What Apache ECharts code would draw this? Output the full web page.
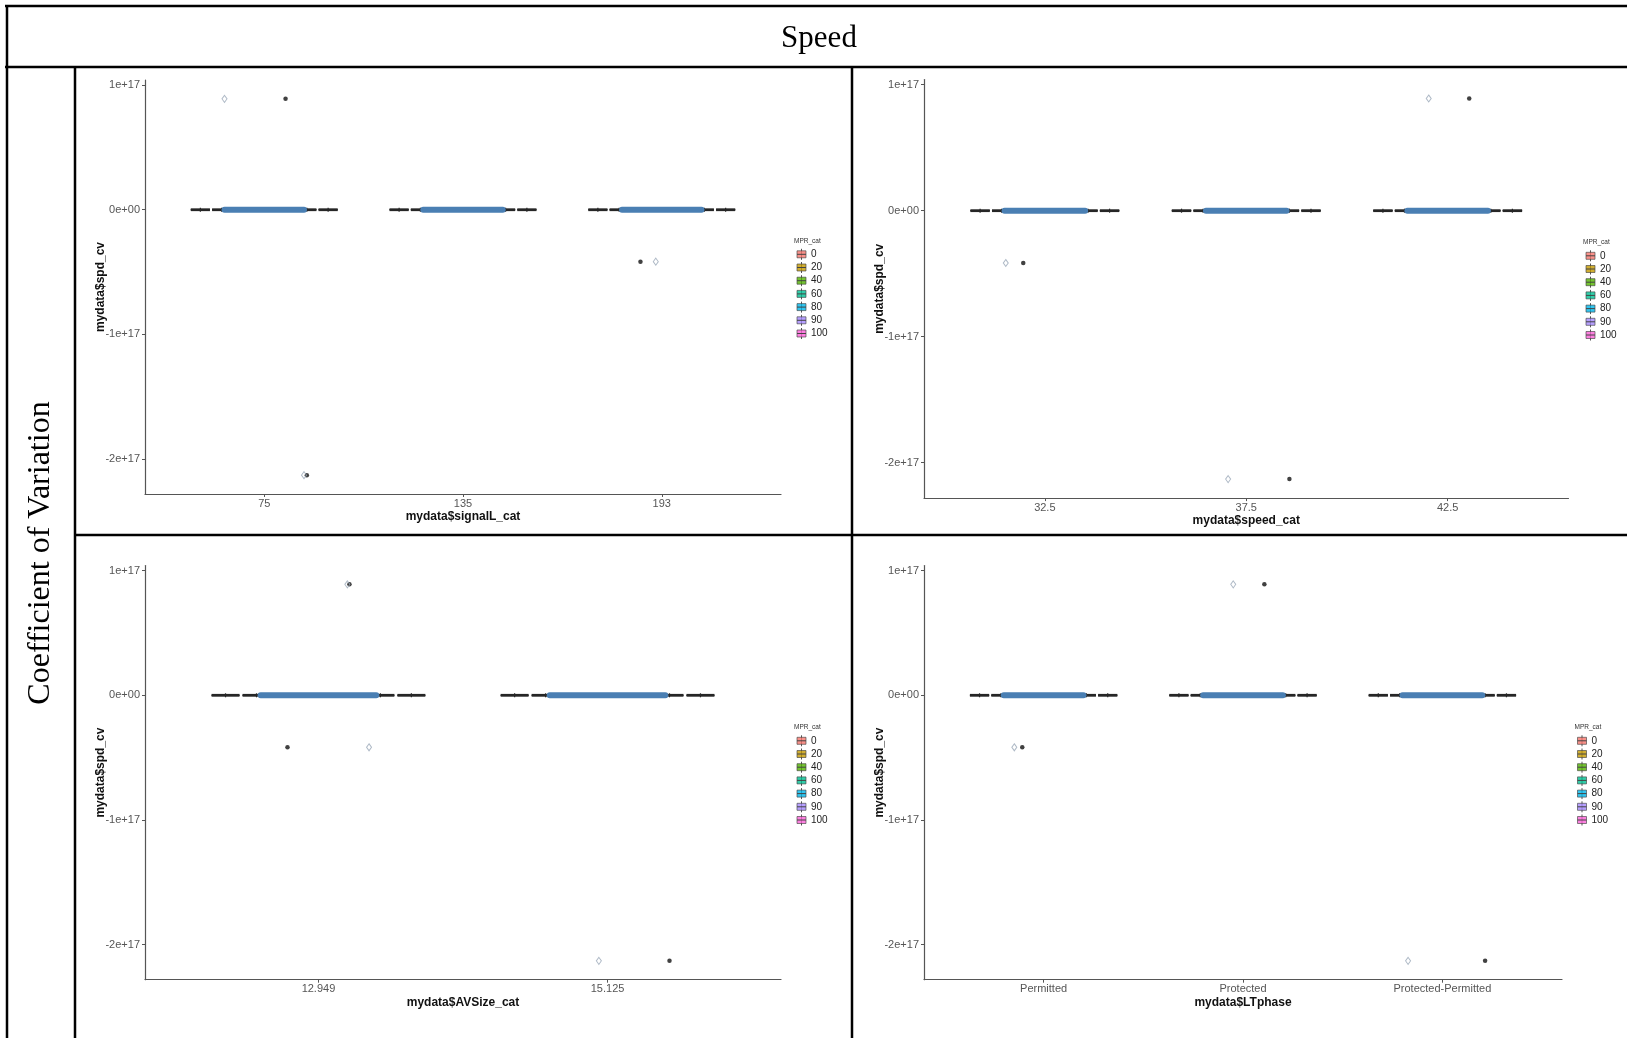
<!DOCTYPE html>
<html>
<head>
<meta charset="utf-8">
<script src="https://cdn.jsdelivr.net/npm/echarts@6/dist/echarts.min.js"></script>
<style>
  html, body { margin: 0; padding: 0; background: #fff; }
  #chart { width: 1627px; height: 1038px; }
</style>
</head>
<body>
<div id="chart"></div>
<script>
// ---- data -------------------------------------------------------------
// MPR_cat levels (dodged inside every category) and their fill colours
const mprLevels = ['0', '20', '40', '60', '80', '90', '100'];
const mprColors = ['#F8766D', '#C49A00', '#53B400', '#00C094', '#00B6EB', '#A58AFF', '#FB61D7'];

// y ticks shared by all four panels
const yTickValues = [-2e17, -1e17, 0, 1e17];
const yTickLabels = ['-2e+17', '-1e+17', '0e+00', '1e+17'];

// box statistics per category and MPR level:
// [lower whisker, Q1, median, Q3, upper whisker]
const signalCats = ['75', '135', '193'];
const signalBoxes = [
  [[-1.6e15, 0, 0, 0, 1.6e15], [-1.6e15, 0, 0, 0, 1.6e15], [-1.6e15, 0, 0, 0, 1.6e15], [-1.6e15, 0, 0, 0, 1.6e15], [-1.6e15, 0, 0, 0, 1.6e15], [-1.6e15, 0, 0, 0, 1.6e15], [-1.6e15, 0, 0, 0, 1.6e15]],
  [[-1.6e15, 0, 0, 0, 1.6e15], [-1.6e15, 0, 0, 0, 1.6e15], [-1.6e15, 0, 0, 0, 1.6e15], [-1.6e15, 0, 0, 0, 1.6e15], [-1.6e15, 0, 0, 0, 1.6e15], [-1.6e15, 0, 0, 0, 1.6e15], [-1.6e15, 0, 0, 0, 1.6e15]],
  [[-1.6e15, 0, 0, 0, 1.6e15], [-1.6e15, 0, 0, 0, 1.6e15], [-1.6e15, 0, 0, 0, 1.6e15], [-1.6e15, 0, 0, 0, 1.6e15], [-1.6e15, 0, 0, 0, 1.6e15], [-1.6e15, 0, 0, 0, 1.6e15], [-1.6e15, 0, 0, 0, 1.6e15]]
];
// boxplot outliers: [category, MPR level index, spd_cv]
const signalOutliers = [[0, 4, 8.9e16], [0, 5, -2.13e17], [2, 2, -4.17e16]];
// jittered observations away from zero: [category, jitter offset, spd_cv]
const signalJitter = [[0, -0.20, 8.9e16], [0, 0.20, -2.13e17], [2, -0.03, -4.17e16]];
// value around which the bulk of the jittered observations sits
const signalBulk = [0, 0, 0];

const speedCats = ['32.5', '37.5', '42.5'];
const speedBoxes = [
  [[-1.6e15, 0, 0, 0, 1.6e15], [-1.6e15, 0, 0, 0, 1.6e15], [-1.6e15, 0, 0, 0, 1.6e15], [-1.6e15, 0, 0, 0, 1.6e15], [-1.6e15, 0, 0, 0, 1.6e15], [-1.6e15, 0, 0, 0, 1.6e15], [-1.6e15, 0, 0, 0, 1.6e15]],
  [[-1.6e15, 0, 0, 0, 1.6e15], [-1.6e15, 0, 0, 0, 1.6e15], [-1.6e15, 0, 0, 0, 1.6e15], [-1.6e15, 0, 0, 0, 1.6e15], [-1.6e15, 0, 0, 0, 1.6e15], [-1.6e15, 0, 0, 0, 1.6e15], [-1.6e15, 0, 0, 0, 1.6e15]],
  [[-1.6e15, 0, 0, 0, 1.6e15], [-1.6e15, 0, 0, 0, 1.6e15], [-1.6e15, 0, 0, 0, 1.6e15], [-1.6e15, 0, 0, 0, 1.6e15], [-1.6e15, 0, 0, 0, 1.6e15], [-1.6e15, 0, 0, 0, 1.6e15], [-1.6e15, 0, 0, 0, 1.6e15]]
];
const speedOutliers = [[0, 2, -4.15e16], [1, 5, -2.13e17], [2, 4, 8.9e16]];
const speedJitter = [[0, -0.194, -4.15e16], [1, -0.09, -2.13e17], [2, -0.094, 8.9e16]];
const speedBulk = [0, 0, 0];

const avSizeCats = ['12.949', '15.125'];
const avSizeBoxes = [
  [[-1.6e15, 0, 0, 0, 1.6e15], [-1.6e15, 0, 0, 0, 1.6e15], [-1.6e15, 0, 0, 0, 1.6e15], [-1.6e15, 0, 0, 0, 1.6e15], [-1.6e15, 0, 0, 0, 1.6e15], [-1.6e15, 0, 0, 0, 1.6e15], [-1.6e15, 0, 0, 0, 1.6e15]],
  [[-1.6e15, 0, 0, 0, 1.6e15], [-1.6e15, 0, 0, 0, 1.6e15], [-1.6e15, 0, 0, 0, 1.6e15], [-1.6e15, 0, 0, 0, 1.6e15], [-1.6e15, 0, 0, 0, 1.6e15], [-1.6e15, 0, 0, 0, 1.6e15], [-1.6e15, 0, 0, 0, 1.6e15]]
];
const avSizeOutliers = [[0, 4, 8.9e16], [0, 2, -4.17e16], [1, 5, -2.13e17]];
const avSizeJitter = [[0, 0.10, 8.9e16], [0, 0.175, -4.17e16], [1, -0.03, -2.13e17]];
const avSizeBulk = [0, 0];

const ltPhaseCats = ['Permitted', 'Protected', 'Protected-Permitted'];
const ltPhaseBoxes = [
  [[-1.6e15, 0, 0, 0, 1.6e15], [-1.6e15, 0, 0, 0, 1.6e15], [-1.6e15, 0, 0, 0, 1.6e15], [-1.6e15, 0, 0, 0, 1.6e15], [-1.6e15, 0, 0, 0, 1.6e15], [-1.6e15, 0, 0, 0, 1.6e15], [-1.6e15, 0, 0, 0, 1.6e15]],
  [[-1.6e15, 0, 0, 0, 1.6e15], [-1.6e15, 0, 0, 0, 1.6e15], [-1.6e15, 0, 0, 0, 1.6e15], [-1.6e15, 0, 0, 0, 1.6e15], [-1.6e15, 0, 0, 0, 1.6e15], [-1.6e15, 0, 0, 0, 1.6e15], [-1.6e15, 0, 0, 0, 1.6e15]],
  [[-1.6e15, 0, 0, 0, 1.6e15], [-1.6e15, 0, 0, 0, 1.6e15], [-1.6e15, 0, 0, 0, 1.6e15], [-1.6e15, 0, 0, 0, 1.6e15], [-1.6e15, 0, 0, 0, 1.6e15], [-1.6e15, 0, 0, 0, 1.6e15], [-1.6e15, 0, 0, 0, 1.6e15]]
];
const ltPhaseOutliers = [[0, 2, -4.17e16], [1, 4, 8.9e16], [2, 5, -2.13e17]];
const ltPhaseJitter = [[0, -0.147, -4.17e16], [1, -0.049, 8.9e16], [2, -0.172, -2.13e17]];
const ltPhaseBulk = [0, 0, 0];

// ---- layout -----------------------------------------------------------
const NARROW = "'Liberation Sans Narrow', 'Arial Narrow', 'Liberation Sans', Arial, sans-serif";
const SANS = "'Liberation Sans', Arial, sans-serif";
const SERIF = "'Liberation Serif', 'Times New Roman', serif";

const DODGE_W = 0.75;              // total dodge width per category
const SLOT = DODGE_W / mprLevels.length;
const BOX_W = SLOT * 0.9;
const JITTER_W = 0.2;
const AXIS_COLOR = '#555';

const panels = [
  { cats: signalCats, boxes: signalBoxes, outliers: signalOutliers, jitter: signalJitter, bulk: signalBulk,
    xTitle: 'mydata$signalL_cat', grid: { left: 145, top: 80, width: 636, height: 414 }, legend: [794, 241] },
  { cats: speedCats, boxes: speedBoxes, outliers: speedOutliers, jitter: speedJitter, bulk: speedBulk,
    xTitle: 'mydata$speed_cat', grid: { left: 924, top: 79.5, width: 644.5, height: 418.6 }, legend: [1583, 242.5] },
  { cats: avSizeCats, boxes: avSizeBoxes, outliers: avSizeOutliers, jitter: avSizeJitter, bulk: avSizeBulk,
    xTitle: 'mydata$AVSize_cat', grid: { left: 145, top: 565.5, width: 636, height: 414.2 }, legend: [794, 727.5] },
  { cats: ltPhaseCats, boxes: ltPhaseBoxes, outliers: ltPhaseOutliers, jitter: ltPhaseJitter, bulk: ltPhaseBulk,
    xTitle: 'mydata$LTphase', grid: { left: 924, top: 565.5, width: 638, height: 414.2 }, legend: [1574.5, 727.5] }
];

function dodge(g) {
  return -DODGE_W / 2 + (g + 0.5) * SLOT;
}

// continuous y range: data range with 5% padding on each side
function yRange(p) {
  const vals = [];
  p.outliers.forEach(o => vals.push(o[2]));
  p.boxes.forEach(c => c.forEach(b => vals.push(b[0], b[4])));
  const lo = Math.min.apply(null, vals), hi = Math.max.apply(null, vals);
  const pad = (hi - lo) * 0.05;
  return [lo - pad, hi + pad];
}

function renderBox(params, api) {
  const xc = api.value(0) + 1 + dodge(api.value(1));
  const hw = BOX_W / 2;
  const lo = api.value(2), q1 = api.value(3), med = api.value(4), q3 = api.value(5), hi = api.value(6);
  const tl = api.coord([xc - hw, q3]);
  const br = api.coord([xc + hw, q1]);
  const m1 = api.coord([xc - hw, med]);
  const m2 = api.coord([xc + hw, med]);
  const wt = api.coord([xc, hi]);
  const wb = api.coord([xc, lo]);
  const ct = api.coord([xc, q3]);
  const cb = api.coord([xc, q1]);
  const stroke = '#262626';
  return {
    type: 'group',
    children: [
      { type: 'line', shape: { x1: ct[0], y1: ct[1], x2: wt[0], y2: wt[1] }, style: { stroke: stroke, lineWidth: 1.2 } },
      { type: 'line', shape: { x1: cb[0], y1: cb[1], x2: wb[0], y2: wb[1] }, style: { stroke: stroke, lineWidth: 1.2 } },
      { type: 'rect', shape: { x: tl[0], y: tl[1], width: br[0] - tl[0], height: br[1] - tl[1] },
        style: { fill: mprColors[api.value(1)], stroke: stroke, lineWidth: 1 } },
      { type: 'line', shape: { x1: m1[0], y1: m1[1], x2: m2[0], y2: m2[1] }, style: { stroke: stroke, lineWidth: 2.8 } }
    ]
  };
}

function renderBulk(params, api) {
  const c = api.value(0) + 1, v = api.value(1);
  const a = api.coord([c - JITTER_W, v]);
  const b = api.coord([c + JITTER_W, v]);
  const r = 3;
  return {
    type: 'rect',
    shape: { x: a[0] - r, y: a[1] - r, width: b[0] - a[0] + 2 * r, height: 2 * r, r: r },
    style: { fill: '#4a7fb3' }
  };
}

const grids = [], xAxes = [], yAxes = [], series = [], graphics = [];

panels.forEach((p, i) => {
  grids.push(Object.assign({ containLabel: false }, p.grid));
  const ticks = p.cats.map((c, k) => k + 1);
  const yr = yRange(p);

  xAxes.push({
    type: 'value', gridIndex: i, min: 0.4, max: p.cats.length + 0.6,
    splitLine: { show: false },
    axisLine: { show: true, onZero: false, lineStyle: { color: AXIS_COLOR, width: 1.2 } },
    axisTick: { show: true, customValues: ticks, length: 3, lineStyle: { color: AXIS_COLOR } },
    axisLabel: { customValues: ticks, formatter: v => p.cats[Math.round(v) - 1], color: '#555',
      fontSize: 11, fontFamily: NARROW, margin: 4 },
    name: p.xTitle, nameLocation: 'middle', nameGap: 17, nameMoveOverlap: false,
    nameTextStyle: { fontWeight: 'bold', fontSize: 12, color: '#111', fontFamily: SANS }
  });

  yAxes.push({
    type: 'value', gridIndex: i, min: yr[0], max: yr[1],
    splitLine: { show: false },
    axisLine: { show: true, onZero: false, lineStyle: { color: AXIS_COLOR, width: 1.2 } },
    axisTick: { show: true, customValues: yTickValues, length: 3, lineStyle: { color: AXIS_COLOR } },
    axisLabel: { customValues: yTickValues, formatter: v => yTickLabels[yTickValues.indexOf(v)], color: '#555',
      fontSize: 11, fontFamily: NARROW, margin: 5 },
    name: 'mydata$spd_cv', nameLocation: 'middle', nameGap: 38, nameRotate: 90, nameMoveOverlap: false,
    nameTextStyle: { fontWeight: 'bold', fontSize: 12, color: '#111', fontFamily: SANS }
  });

  const boxData = [];
  p.boxes.forEach((cat, c) => cat.forEach((b, g) => boxData.push([c, g].concat(b))));

  series.push({
    type: 'custom', xAxisIndex: i, yAxisIndex: i, renderItem: renderBox,
    dimensions: ['cat', 'mpr', 'lo', 'q1', 'med', 'q3', 'hi'],
    encode: { x: 0, y: 4 }, data: boxData, silent: true, z: 2
  });
  series.push({
    type: 'custom', xAxisIndex: i, yAxisIndex: i, renderItem: renderBulk,
    encode: { x: 0, y: 1 }, data: p.bulk.map((v, c) => [c, v]), silent: true, z: 3
  });
  series.push({
    type: 'scatter', xAxisIndex: i, yAxisIndex: i, symbol: 'circle', symbolSize: 4.5,
    itemStyle: { color: '#111' }, silent: true, z: 4,
    data: p.outliers.map(o => [o[0] + 1 + dodge(o[1]), o[2]])
  });
  series.push({
    type: 'scatter', xAxisIndex: i, yAxisIndex: i, symbol: 'diamond', symbolSize: [5, 7],
    itemStyle: { color: 'rgba(255,255,255,0)', borderColor: '#9aa8b8', borderWidth: 1 }, silent: true, z: 5,
    data: p.jitter.map(j => [j[0] + 1 + j[1], j[2]])
  });

  // MPR_cat legend
  const lx = p.legend[0], ly = p.legend[1];
  graphics.push({ type: 'text', x: lx, y: ly, style: { text: 'MPR_cat', fontSize: 6.5, fontFamily: NARROW, fill: '#333',
    align: 'left', verticalAlign: 'middle' } });
  mprLevels.forEach((lev, k) => {
    const ry = ly + 13.3 + k * 13.2;
    const kx = lx + 3;
    graphics.push({ type: 'line', shape: { x1: kx + 4.5, y1: ry - 5.5, x2: kx + 4.5, y2: ry + 5.5 }, style: { stroke: '#555', lineWidth: 1 } });
    graphics.push({ type: 'rect', shape: { x: kx, y: ry - 3.5, width: 9, height: 7 },
      style: { fill: mprColors[k], opacity: 0.8, stroke: '#444', lineWidth: 0.8 } });
    graphics.push({ type: 'line', shape: { x1: kx, y1: ry, x2: kx + 9, y2: ry }, style: { stroke: '#444', lineWidth: 1 } });
    graphics.push({ type: 'text', x: kx + 14, y: ry, style: { text: lev, fontSize: 10, fontFamily: NARROW, fill: '#222',
      align: 'left', verticalAlign: 'middle' } });
  });
});

// table frame around the four panels
const RULE = { stroke: '#000', lineWidth: 2.5 };
[
  [5, 6, 1627, 6],
  [5, 67, 1627, 67],
  [7, 5, 7, 1038],
  [75, 67, 75, 1038],
  [852, 67, 852, 1038],
  [75, 535, 1627, 535]
].forEach(l => graphics.push({ type: 'line', shape: { x1: l[0], y1: l[1], x2: l[2], y2: l[3] }, style: RULE, z: 100 }));

graphics.push({ type: 'text', x: 819, y: 39, style: { text: 'Speed', fontSize: 31, fontFamily: SERIF, fill: '#000',
  align: 'center', verticalAlign: 'middle' } });
graphics.push({ type: 'text', x: 41, y: 553, rotation: Math.PI / 2, style: { text: 'Coefficient of Variation', fontSize: 32,
  fontFamily: SERIF, fill: '#000', align: 'center', verticalAlign: 'middle' } });

const chart = echarts.init(document.getElementById('chart'), null, { renderer: 'canvas' });
chart.setOption({
  animation: false,
  backgroundColor: '#fff',
  grid: grids,
  xAxis: xAxes,
  yAxis: yAxes,
  series: series,
  graphic: graphics
});
</script>
</body>
</html>
